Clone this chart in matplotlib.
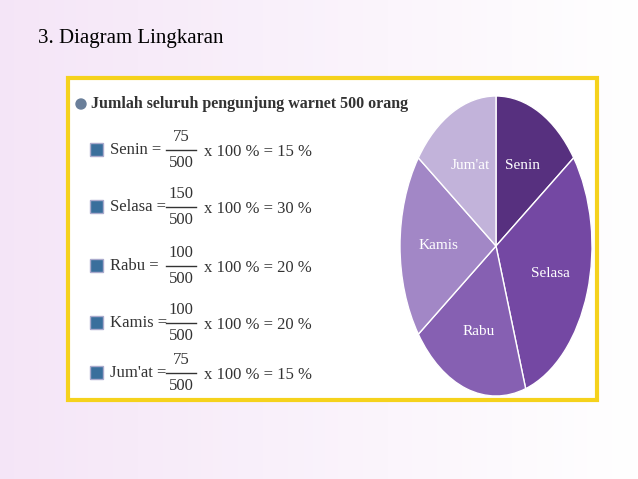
import matplotlib
matplotlib.use("Agg")
import matplotlib.pyplot as plt
import numpy as np

days = ["Senin", "Selasa", "Rabu", "Kamis", "Jum'at"]
visitors = [75, 150, 100, 100, 75]
total = 500
colors = ["#57307f", "#7448a3", "#8660b2", "#a287c6", "#c2b3da"]

fig = plt.figure(figsize=(6.38, 4.79), dpi=100)
bg = fig.add_axes([0, 0, 1, 1])
bg.set_xlim(0, 638); bg.set_ylim(479, 0); bg.axis("off")
grad = np.linspace(0, 1, 256)
img = np.ones((256, 256, 3))
img[..., 0] = 1 - 0.04*(1-grad)[None, :]
img[..., 1] = 1 - 0.10*(1-grad)[None, :]
img[..., 2] = 1 - 0.03*(1-grad)[None, :]
bg.imshow(img, extent=[0, 638, 479, 0], aspect="auto", zorder=0)
bg.add_patch(plt.Rectangle((68, 78), 529, 322, facecolor="white", edgecolor="#f5d21c", lw=3, zorder=1))
serif = "Liberation Serif"
bg.text(38, 38, "3. Diagram Lingkaran", fontsize=15, family=serif, va="center", zorder=3)
bg.add_patch(plt.Circle((81, 104), 5, color="#6a7f9a", zorder=3))
bg.text(91, 104, "Jumlah seluruh pengunjung warnet 500 orang", fontsize=11.5, family=serif,
        weight="bold", color="#333", va="center", zorder=3)
ys = [150, 207, 266, 323, 373]
for d, v, y in zip(days, visitors, ys):
    bg.add_patch(plt.Rectangle((90, y-7), 13, 13, facecolor="#3a6f9c", edgecolor="#aac", zorder=3))
    bg.text(110, y, f"{d} =", fontsize=12, family=serif, color="#333", va="center", zorder=3)
    bg.text(181, y-13, str(v), fontsize=12, family=serif, color="#333", va="center", ha="center", zorder=3)
    bg.plot([166, 196], [y, y], color="#333", lw=1, zorder=3)
    bg.text(181, y+13, str(total), fontsize=12, family=serif, color="#333", va="center", ha="center", zorder=3)
    pct = round(v/total*100)
    bg.text(204, y+2, f"x 100 % = {pct} %", fontsize=12, family=serif, color="#333", va="center", zorder=3)

ax = fig.add_axes([400/638, (479-396)/479, 192/638, 300/479])
wedges, texts = ax.pie(visitors, colors=colors, startangle=90, counterclock=False,
                       labels=days, labeldistance=0.6,
                       wedgeprops=dict(edgecolor="white", linewidth=1),
                       textprops=dict(color="white", fontsize=11, family=serif, ha="center"))
for t in texts:
    t.set_ha("center")
ax.set_aspect("auto")
ax.set_xlim(-1, 1); ax.set_ylim(-1, 1)
plt.savefig("out.png", dpi=100)
